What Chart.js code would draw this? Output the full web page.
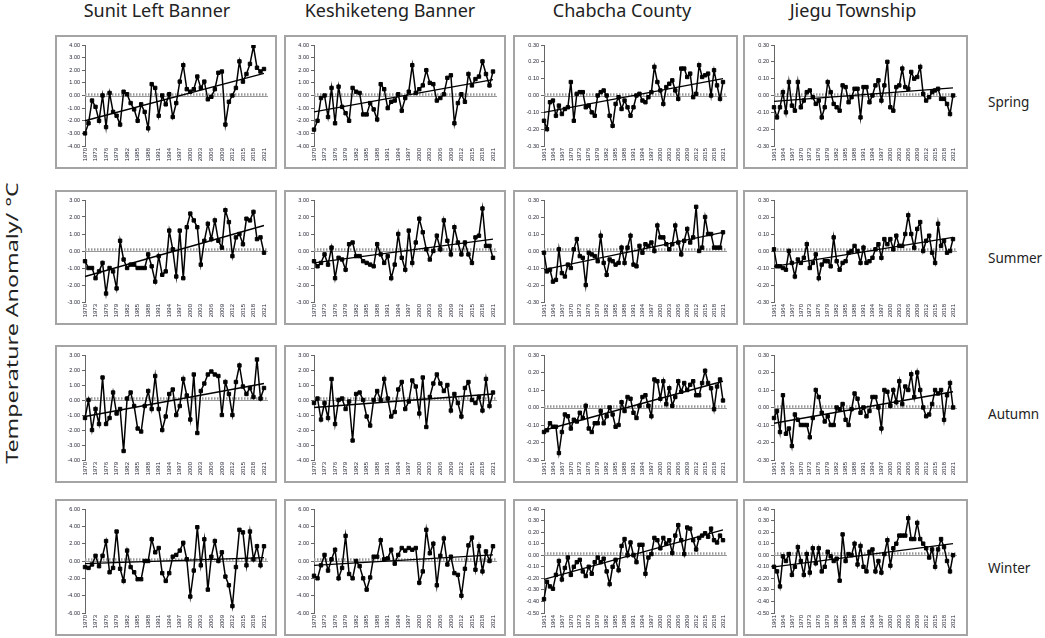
<!DOCTYPE html>
<html>
<head>
<meta charset="utf-8">
<title>Seasonal temperature anomaly</title>
<script src="https://cdn.jsdelivr.net/npm/chart.js@4.4.1/dist/chart.umd.min.js"></script>
<style>
    body { margin: 0; width: 1045px; height: 638px; background: #fff; position: relative; overflow: hidden; font-family: "Noto Sans", sans-serif; color: #222; }
    .box { position: absolute; border: 2px solid #a4a4a4; box-sizing: border-box; background: #fff; }
    .box canvas { display: block; }
    .title { position: absolute; top: 0; width: 240px; text-align: center; font-size: 18px; line-height: 21px; }
    .season { position: absolute; left: 988px; font-size: 13.5px; line-height: 18px; }
    .ylabel { position: absolute; left: 12px; top: 323px; font-size: 16px; white-space: nowrap; transform: translate(-50%, -50%) rotate(-90deg) scaleX(1.45); }
</style>
</head>
<body>
<div class="ylabel">Temperature Anomaly/ °C</div>
<script>
// Sites (columns) and seasons (rows)
const sites = ['Sunit Left Banner', 'Keshiketeng Banner', 'Chabcha County', 'Jiegu Township'];
const seasons = ['Spring', 'Summer', 'Autumn', 'Winter'];

// Years: 1970-2021 for the Inner Mongolia sites, 1961-2021 for the Qinghai sites
const years1970 = [];
for (let y = 1970; y <= 2021; y++) years1970.push(String(y));
const years1961 = [];
for (let y = 1961; y <= 2021; y++) years1961.push(String(y));

// Spring anomalies
const sunitSpring = [-3.0,-2.2,-0.4,-0.9,-2.0,0.0,-2.5,0.2,-1.3,-1.6,-2.3,0.3,0.1,-0.6,-1.1,-2.0,-0.7,-1.3,-2.6,0.9,0.6,-1.6,0.0,-0.7,0.1,-1.7,-0.6,1.1,2.4,0.5,0.3,0.5,1.5,0.6,1.1,-0.3,-0.1,0.5,1.8,1.9,-2.3,-0.5,0.0,0.6,2.7,1.1,1.7,2.5,3.9,2.2,1.9,2.1];
const keshSpring = [-2.7,-2.0,-0.2,0.0,-1.7,0.6,-2.2,0.7,-0.9,-1.4,-2.0,0.6,0.3,0.2,-1.5,-1.5,-0.6,-1.1,-1.9,0.9,0.5,-1.0,-0.5,-0.4,0.1,-1.2,-0.2,0.3,2.4,0.2,0.5,0.8,2.0,1.0,0.9,-0.4,-0.2,0.1,1.4,1.6,-2.2,-0.6,0.1,-0.5,1.7,0.8,1.3,1.5,2.7,1.7,0.8,1.9];
const chabchaSpring = [-0.15,-0.20,-0.04,-0.03,-0.12,-0.06,-0.11,-0.08,-0.07,0.08,-0.15,0.01,0.02,0.02,-0.07,-0.06,-0.10,-0.12,0.00,0.02,0.03,0.00,-0.12,-0.18,-0.05,-0.01,-0.08,-0.03,-0.07,-0.12,-0.07,0.00,0.01,-0.03,-0.04,-0.01,0.02,0.17,0.08,0.03,-0.05,0.05,0.07,0.09,0.03,-0.02,0.16,0.16,0.11,0.13,-0.01,0.01,0.18,0.11,0.12,0.13,0.00,0.15,0.06,-0.02,0.08];
const jieguSpring = [-0.07,-0.13,-0.07,0.02,-0.10,0.08,-0.06,-0.09,0.08,-0.07,-0.03,0.02,0.03,-0.01,-0.05,-0.03,-0.13,-0.07,0.08,0.02,-0.05,-0.07,-0.09,0.06,0.05,-0.04,-0.01,0.04,0.04,-0.13,0.05,0.05,-0.04,0.00,0.06,0.09,-0.03,0.06,0.20,-0.07,-0.09,0.05,0.06,0.16,0.05,0.04,0.14,0.10,0.11,0.17,0.01,-0.03,-0.01,0.02,0.03,0.04,-0.02,-0.02,-0.05,-0.11,0.00];

// Summer anomalies
const sunitSummer = [-0.6,-1.0,-1.0,-1.6,-1.2,-0.7,-2.5,-1.0,-1.2,-2.2,0.6,-0.5,-1.0,-0.8,-0.8,-1.0,-1.0,-1.0,-0.2,-0.9,-1.8,-0.3,-1.4,-1.2,1.2,0.1,-1.5,1.2,-1.6,1.4,2.2,1.8,1.4,-0.8,0.6,1.6,0.7,1.8,0.6,0.2,2.4,1.7,-0.3,0.8,1.0,0.4,1.9,1.8,2.3,0.7,0.8,-0.1];
const keshSummer = [-0.6,-0.9,-0.7,-0.2,-0.8,0.2,-1.6,-0.4,-0.5,-1.1,0.4,0.5,-0.3,-0.3,-0.6,-0.7,-0.8,-0.9,0.4,-0.2,-0.7,-0.3,-1.6,-0.8,1.0,-0.4,-1.1,1.2,-0.7,0.5,1.9,1.1,0.1,-0.5,0.0,0.9,0.1,1.8,0.6,-0.2,1.4,0.5,-0.2,0.5,-0.2,-0.7,0.8,0.9,2.5,0.3,0.3,-0.4];
const chabchaSummer = [-0.01,-0.12,-0.11,-0.18,-0.17,0.01,-0.13,-0.15,-0.08,-0.10,0.01,0.07,-0.03,-0.04,-0.20,-0.01,-0.02,-0.03,-0.06,0.09,-0.07,-0.14,-0.05,-0.06,-0.08,-0.07,0.02,-0.07,0.02,0.09,-0.08,-0.09,0.03,-0.01,0.04,0.03,0.05,0.00,0.15,0.08,0.08,0.04,0.01,0.04,0.15,0.05,-0.02,0.06,0.13,0.05,0.08,0.26,0.00,0.02,0.20,0.10,0.10,0.02,0.02,0.02,0.11];
const jieguSummer = [0.01,-0.09,-0.09,-0.10,-0.11,0.00,-0.07,-0.15,-0.05,-0.07,-0.04,0.04,-0.10,-0.07,-0.02,-0.16,-0.08,-0.06,-0.06,-0.09,0.08,-0.06,-0.11,-0.07,-0.06,-0.01,0.00,0.03,0.00,-0.07,0.02,-0.07,-0.06,-0.04,0.01,0.04,-0.04,0.07,0.04,0.07,0.01,0.09,0.03,0.03,0.10,0.21,0.10,0.02,0.13,0.17,0.00,0.06,0.09,-0.01,-0.07,0.16,0.03,0.06,-0.01,0.00,0.07];

// Autumn anomalies
const sunitAutumn = [-1.2,0.0,-2.0,-0.6,-1.6,1.5,-1.6,-1.2,0.5,-0.9,-0.6,-3.4,0.1,0.5,-0.4,-1.9,-2.1,-0.4,0.6,-0.6,1.6,-0.6,-2.0,-1.1,0.4,0.7,-1.0,-0.4,1.4,0.3,-1.3,1.7,-2.2,0.6,1.1,1.7,1.9,1.7,1.6,-1.0,1.2,0.4,-1.0,1.2,2.3,0.9,0.4,0.8,0.2,2.7,0.1,0.8];
const keshAutumn = [-0.2,0.1,-1.3,-0.2,-1.2,1.4,-1.6,0.0,0.1,-0.6,-0.1,-2.7,0.4,0.5,0.0,-1.1,-1.7,0.0,0.6,0.0,1.4,0.1,-1.1,-0.8,0.7,1.2,-0.6,-0.1,1.3,0.9,-0.9,1.5,-1.8,0.2,1.1,1.7,1.1,0.6,1.0,-0.7,0.4,-0.2,-1.1,0.8,1.2,0.0,-0.2,0.2,-0.7,1.4,-0.4,0.5];
const chabchaAutumn = [-0.14,-0.13,-0.09,-0.11,-0.11,-0.26,-0.14,-0.04,-0.05,-0.12,-0.07,-0.08,-0.03,-0.06,0.01,-0.12,-0.14,-0.09,-0.09,-0.02,-0.09,-0.05,0.00,-0.04,-0.11,-0.10,0.03,-0.02,0.06,0.05,-0.03,-0.06,0.01,0.06,0.07,0.01,-0.05,0.16,0.15,0.05,0.15,0.02,0.11,0.01,0.06,0.15,0.09,0.14,0.10,0.13,0.15,0.07,0.07,0.14,0.21,0.14,0.11,-0.01,0.12,0.16,0.04];
const jieguAutumn = [-0.06,-0.02,-0.14,0.07,-0.15,-0.12,-0.22,-0.04,-0.07,-0.10,-0.10,-0.10,-0.17,-0.06,0.10,0.06,-0.03,-0.08,-0.05,-0.10,-0.10,0.00,-0.01,0.02,-0.07,-0.10,-0.01,0.08,0.05,-0.03,0.00,-0.05,-0.02,0.06,0.06,0.00,-0.12,0.10,0.09,0.01,0.10,0.03,0.15,0.02,0.12,0.10,0.19,0.06,0.20,0.10,0.00,-0.05,-0.04,0.02,0.10,0.08,0.10,-0.07,0.07,0.14,0.00];

// Winter anomalies
const sunitWinter = [-0.7,-0.8,-0.4,0.6,-0.6,0.6,2.3,-1.3,-0.8,3.4,-0.9,-2.3,1.2,-0.7,-1.3,-2.1,-2.1,0.0,0.0,2.5,1.0,1.5,-1.4,-2.3,-1.4,0.5,0.7,1.2,2.1,0.2,-4.1,-1.1,3.9,-0.5,2.5,-3.3,0.5,2.3,0.0,1.0,-1.8,-2.8,-5.2,-0.7,3.6,3.3,-0.5,3.4,0.2,1.7,-0.5,1.7];
const keshWinter = [-1.7,-2.0,-0.5,0.7,-1.1,0.2,1.3,-2.0,-0.8,2.9,-1.5,-2.0,0.0,-0.6,-2.0,-3.3,-1.9,0.5,0.5,2.4,0.2,0.3,1.3,-0.3,0.7,1.5,1.2,1.5,1.3,1.5,-2.5,-1.2,3.6,0.9,2.0,-2.8,0.6,2.6,-0.4,0.5,-1.4,-1.6,-4.0,-0.9,1.8,2.7,-1.0,1.7,-1.2,1.1,0.0,1.7];
const chabchaWinter = [-0.38,-0.23,-0.27,-0.29,-0.17,-0.05,-0.21,-0.11,-0.02,-0.17,-0.10,-0.06,-0.04,-0.14,-0.18,-0.10,-0.16,-0.06,-0.02,-0.06,-0.03,-0.14,-0.25,-0.10,-0.04,-0.13,0.08,0.14,0.00,0.11,0.00,-0.06,0.09,0.09,-0.16,-0.02,0.01,0.15,0.13,0.06,0.15,0.10,0.13,0.02,0.17,0.26,0.13,0.01,0.24,0.23,0.13,0.05,0.15,0.17,0.19,0.16,0.23,0.13,0.11,0.17,0.13];
const jieguWinter = [-0.10,-0.14,-0.27,-0.01,-0.05,0.01,-0.17,-0.10,0.07,-0.05,-0.17,0.01,-0.15,0.06,-0.07,0.06,-0.14,-0.10,0.03,-0.01,-0.05,-0.03,-0.22,0.18,-0.05,0.01,0.00,0.10,-0.08,0.08,-0.10,-0.14,0.03,0.05,-0.14,-0.05,-0.15,0.01,0.13,-0.09,0.06,0.10,0.17,0.17,0.17,0.32,0.14,0.14,0.28,0.14,0.10,0.06,-0.02,0.05,-0.10,0.05,0.14,0.07,-0.05,-0.14,0.00];

// Linear trend, [first year, last year]
const trendSpring = [[-2.0, 1.75], [-1.3, 1.25], [-0.10, 0.10], [-0.035, 0.045]];
const trendSummer = [[-1.5, 1.5], [-0.7, 0.7], [-0.11, 0.11], [-0.09, 0.08]];
const trendAutumn = [[-1.1, 1.1], [-0.5, 0.4], [-0.13, 0.15], [-0.09, 0.09]];
const trendWinter = [[-0.3, 0.4], [-0.5, 0.7], [-0.21, 0.22], [-0.10, 0.10]];

// Y tick ranges [min, max, step] per season
const yTicksMongolia = [[-4, 4, 1], [-3, 3, 1], [-4, 3, 1], [-6, 6, 2]];
const yTicksQinghai = [[-0.3, 0.3, 0.1], [-0.3, 0.3, 0.1], [-0.3, 0.3, 0.1], [-0.5, 0.4, 0.1]];

const seriesGrid = [
    [sunitSpring, keshSpring, chabchaSpring, jieguSpring],
    [sunitSummer, keshSummer, chabchaSummer, jieguSummer],
    [sunitAutumn, keshAutumn, chabchaAutumn, jieguAutumn],
    [sunitWinter, keshWinter, chabchaWinter, jieguWinter]
];
const trendGrid = [trendSpring, trendSummer, trendAutumn, trendWinter];

// Page layout (box edges in px)
const colEdges = [[55, 277], [284, 506], [513, 738], [743, 968]];
const rowEdges = [[35, 169], [190, 325], [345, 483], [499, 636]];
const titleCenters = [157, 390, 622, 853];
const yAxisWidth = [28, 28, 29, 29];
const rightPad = [11, 11, 13, 13];

// Dotted zero reference line
const zeroLine = {
    id: 'zeroLine',
    beforeDatasetsDraw(chart) {
        const y = Math.round(chart.scales.y.getPixelForValue(0));
        const { left, right } = chart.chartArea;
        const ctx = chart.ctx;
        ctx.save();
        ctx.strokeStyle = '#999';
        ctx.lineWidth = 1;
        ctx.beginPath();
        ctx.moveTo(left, y + 0.5);
        ctx.lineTo(right + 4, y + 0.5);
        ctx.stroke();
        ctx.setLineDash([1.5, 1.5]);
        ctx.lineWidth = 2.5;
        ctx.beginPath();
        ctx.moveTo(left, y - 1.5);
        ctx.lineTo(right + 4, y - 1.5);
        ctx.stroke();
        ctx.restore();
    }
};

const tickFont = "'Liberation Sans', Arial, sans-serif";

function makePanel(r, c) {
    const [x0, x1] = colEdges[c];
    const [y0, y1] = rowEdges[r];
    const box = document.createElement('div');
    box.className = 'box';
    box.style.left = x0 + 'px';
    box.style.top = y0 + 'px';
    box.style.width = (x1 - x0) + 'px';
    box.style.height = (y1 - y0) + 'px';
    const canvas = document.createElement('canvas');
    canvas.width = x1 - x0 - 4;
    canvas.height = y1 - y0 - 4;
    box.appendChild(canvas);
    document.body.appendChild(box);

    const labels = c < 2 ? years1970 : years1961;
    const values = seriesGrid[r][c];
    const trend = labels.map(() => null);
    trend[0] = trendGrid[r][c][0];
    trend[trend.length - 1] = trendGrid[r][c][1];
    const [yMin, yMax, yStep] = c < 2 ? yTicksMongolia[r] : yTicksQinghai[r];

    new Chart(canvas, {
        type: 'line',
        data: {
            labels: labels,
            datasets: [
                {
                    data: values,
                    borderColor: '#000',
                    borderWidth: 1.5,
                    pointStyle: 'rect',
                    pointRadius: 2.4,
                    pointBackgroundColor: '#000',
                    pointBorderColor: '#000',
                    pointBorderWidth: 1,
                    tension: 0
                },
                {
                    data: trend,
                    borderColor: '#000',
                    borderWidth: 1.3,
                    pointRadius: 0,
                    spanGaps: true
                }
            ]
        },
        options: {
            responsive: false,
            animation: false,
            layout: { padding: { top: 8, right: rightPad[c], bottom: 4, left: 0 } },
            plugins: { legend: { display: false }, tooltip: { enabled: false } },
            scales: {
                x: {
                    grid: { display: false, drawTicks: false, tickLength: 0 },
                    border: { display: false },
                    ticks: {
                        autoSkip: false,
                        minRotation: 90,
                        maxRotation: 90,
                        padding: 2,
                        color: '#1e2030',
                        font: { size: 6, family: tickFont },
                        callback: function(v, i) {
                            return i % 3 === 0 ? this.getLabelForValue(v) : '';
                        }
                    },
                    afterFit: (s) => { s.height = 17; }
                },
                y: {
                    min: yMin,
                    max: yMax,
                    grid: { drawOnChartArea: false, tickLength: 3, color: '#666' },
                    border: { color: '#666', width: 1 },
                    ticks: {
                        stepSize: yStep,
                        padding: 2,
                        color: '#1e2030',
                        font: { size: 5.5, family: tickFont },
                        callback: (v) => (Math.abs(v) < 1e-9 ? 0 : v).toFixed(2)
                    },
                    afterFit: (s) => { s.width = yAxisWidth[c]; }
                }
            }
        },
        plugins: [zeroLine]
    });
}

// Column titles and season labels
sites.forEach((name, c) => {
    const t = document.createElement('div');
    t.className = 'title';
    t.style.left = (titleCenters[c] - 120) + 'px';
    t.textContent = name;
    document.body.appendChild(t);
});
seasons.forEach((name, r) => {
    const s = document.createElement('div');
    s.className = 'season';
    s.style.top = ((rowEdges[r][0] + rowEdges[r][1]) / 2 - 9) + 'px';
    s.textContent = name;
    document.body.appendChild(s);
});

for (let r = 0; r < 4; r++) {
    for (let c = 0; c < 4; c++) makePanel(r, c);
}
</script>
</body>
</html>
